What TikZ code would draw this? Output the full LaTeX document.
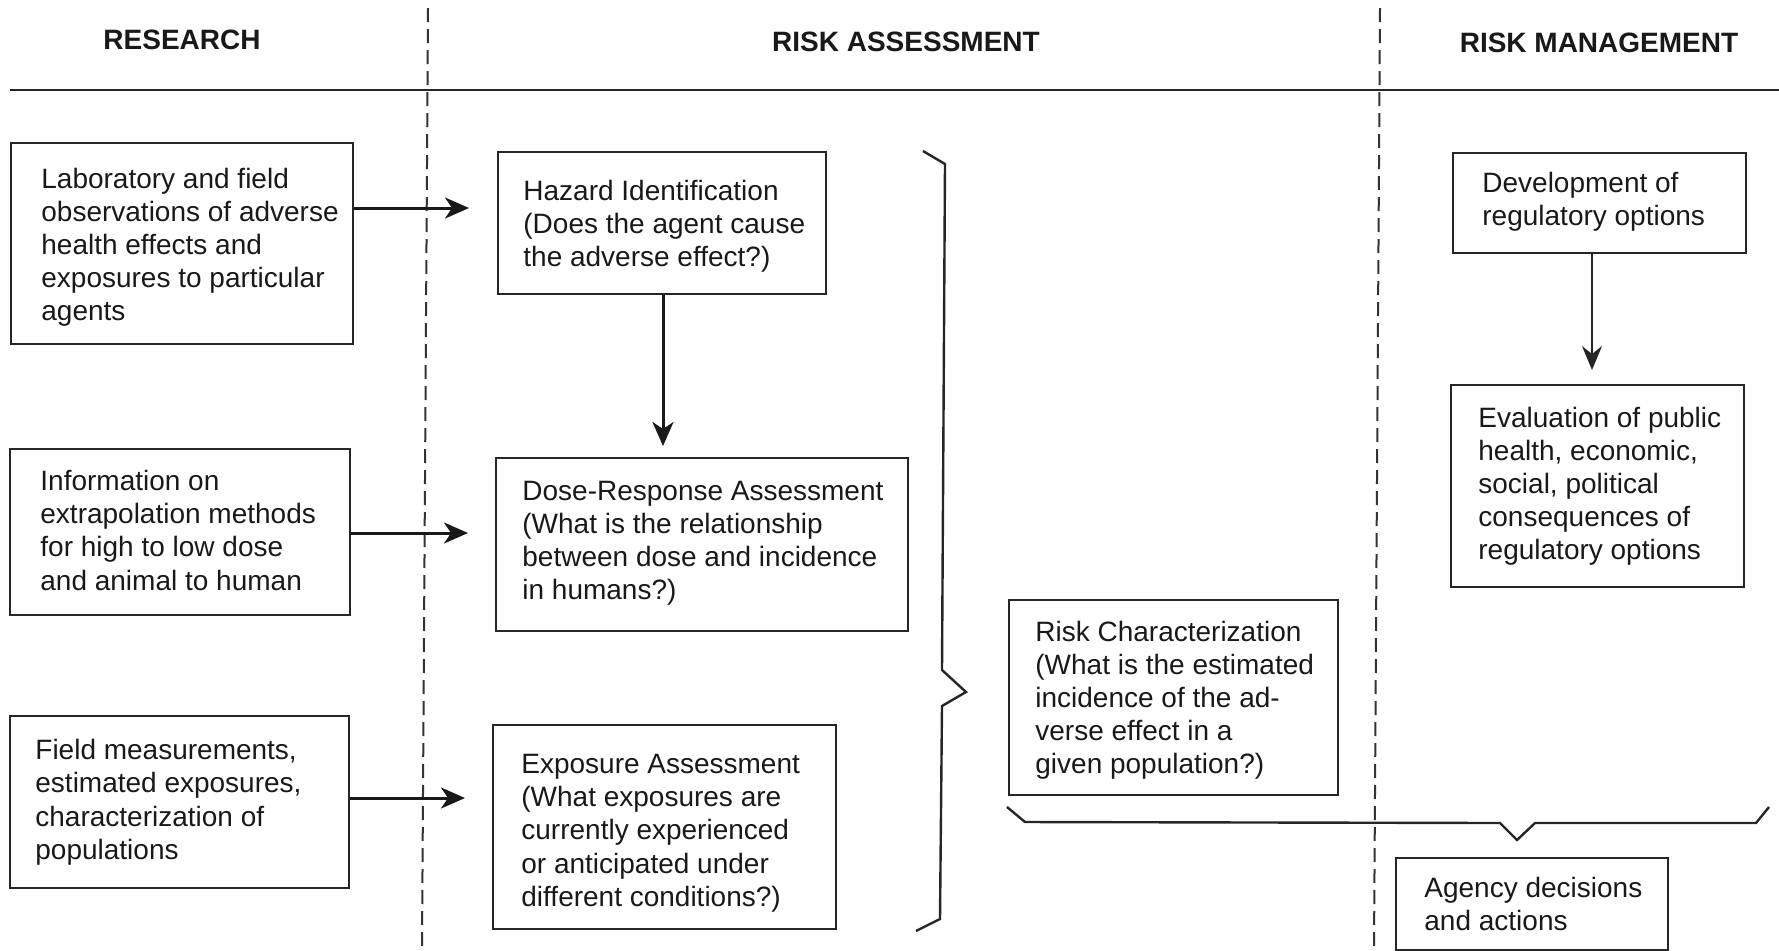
\documentclass[tikz,border=0pt]{standalone}
\usepackage{fontspec}
\setmainfont{Liberation Sans}
\usetikzlibrary{arrows.meta}
\begin{document}
\begin{tikzpicture}[x=0.5pt,y=-0.5pt,
  box/.style={draw=black!85, line width=1.2pt, anchor=north west, inner sep=0pt},
  txt/.style={anchor=west, align=left, inner sep=0pt, text=black!90,
    font=\fontsize{14}{16.6}\selectfont},
  head/.style={font=\fontsize{14}{16}\selectfont\bfseries, text=black!90, inner sep=0pt},
  arr/.style={draw=black!90, line width=1.5pt, -{Stealth[length=12pt,width=10.5pt,inset=3.5pt]}},
  thinarr/.style={draw=black!85, line width=0.8pt, -{Stealth[length=12pt,width=10pt,inset=4pt]}},
  dashline/.style={draw=black!80, line width=1pt, dash pattern=on 7pt off 3.5pt},
  bracket/.style={draw=black!85, line width=1.2pt, line join=miter}
]
\useasboundingbox (0,0) rectangle (1779,950);

% headings
\node[head] (hres) at (182,40) {RESEARCH};
\node[head] (hass) at (906,42) {RISK ASSESSMENT};
\node[head] (hman) at (1599,43) {RISK MANAGEMENT};

% rule and dashed dividers
\draw[draw=black!85, line width=1.3pt] (10,90) -- (1779,90);
\draw[dashline] (428,8) -- (422,950);
\draw[dashline] (1380,8) -- (1374,950);

% research boxes
\node[box, minimum width=171pt, minimum height=100.5pt] (r1) at (10,142) {};
\node[txt] (r1t) at ([xshift=15.5pt,yshift=-1.75pt]r1.west) {Laboratory and field\\observations of adverse\\health effects and\\exposures to particular\\agents};

\node[box, minimum width=170pt, minimum height=83pt] (r2) at (9,448) {};
\node[txt] (r2t) at ([xshift=15.5pt,yshift=1pt]r2.west) {Information on\\extrapolation methods\\for high to low dose\\and animal to human};

\node[box, minimum width=169.5pt, minimum height=86pt] (r3) at (9,715) {};
\node[txt] (r3t) at ([xshift=13pt]r3.west) {Field measurements,\\estimated exposures,\\characterization of\\populations};

% risk assessment boxes
\node[box, minimum width=164pt, minimum height=71pt] (h) at (497,151) {};
\node[txt] (ht) at ([xshift=13pt,yshift=-1.5pt]h.west) {Hazard Identification\\(Does the agent cause\\the adverse effect?)};

\node[box, minimum width=206pt, minimum height=86.5pt] (d) at (495,457) {};
\node[txt] (dt) at ([xshift=13.5pt,yshift=0.75pt]d.west) {Dose-Response Assessment\\(What is the relationship\\between dose and incidence\\in humans?)};

\node[box, minimum width=171.5pt, minimum height=102pt] (e) at (492,724) {};
\node[txt] (et) at ([xshift=14.5pt,yshift=-3pt]e.west) {Exposure Assessment\\(What exposures are\\currently experienced\\or anticipated under\\different conditions?)};

\node[box, minimum width=164.5pt, minimum height=97.5pt] (rc) at (1008,599) {};
\node[txt] (rct) at ([xshift=13.5pt,yshift=-1.25pt]rc.west) {Risk Characterization\\(What is the estimated\\incidence of the ad-\\verse effect in a\\given population?)};

% risk management boxes
\node[box, minimum width=146.5pt, minimum height=50pt] (dev) at (1452,152) {};
\node[txt] (devt) at ([xshift=15pt,yshift=0.75pt]dev.west) {Development of\\regulatory options};

\node[box, minimum width=146.5pt, minimum height=101pt] (ev) at (1450,384) {};
\node[txt] (evt) at ([xshift=14pt]ev.west) {Evaluation of public\\health, economic,\\social, political\\consequences of\\regulatory options};

\node[box, minimum width=136pt, minimum height=46pt] (ag) at (1395,857) {};
\node[txt] (agt) at ([xshift=14.5pt]ag.west) {Agency decisions\\and actions};

% arrows
\draw[arr, shorten >=14pt] (r1.east |- 0,208) -- (h.west |- 0,208);
\draw[arr, shorten >=13.5pt] (r2.east |- 0,533) -- (d.west |- 0,533);
\draw[arr, shorten >=13.5pt] (r3.east |- 0,798) -- (e.west |- 0,798);
\draw[arr, shorten >=5.5pt] (h.south -| 663,0) -- (d.north -| 663,0);
\draw[thinarr, shorten >=7pt] (dev.south -| 1592,0) -- (ev.north -| 1592,0);

% brackets
\draw[bracket] (923,151) -- (945,164) -- (942,670) -- (966,692) -- (942,706) -- (940,919) -- (916,931);
\draw[bracket] (1007,807) -- (1025,822) -- (1500,823) -- (1517,840) -- (1535,823) -- (1756,823) -- (1769,807);
\end{tikzpicture}
\end{document}
